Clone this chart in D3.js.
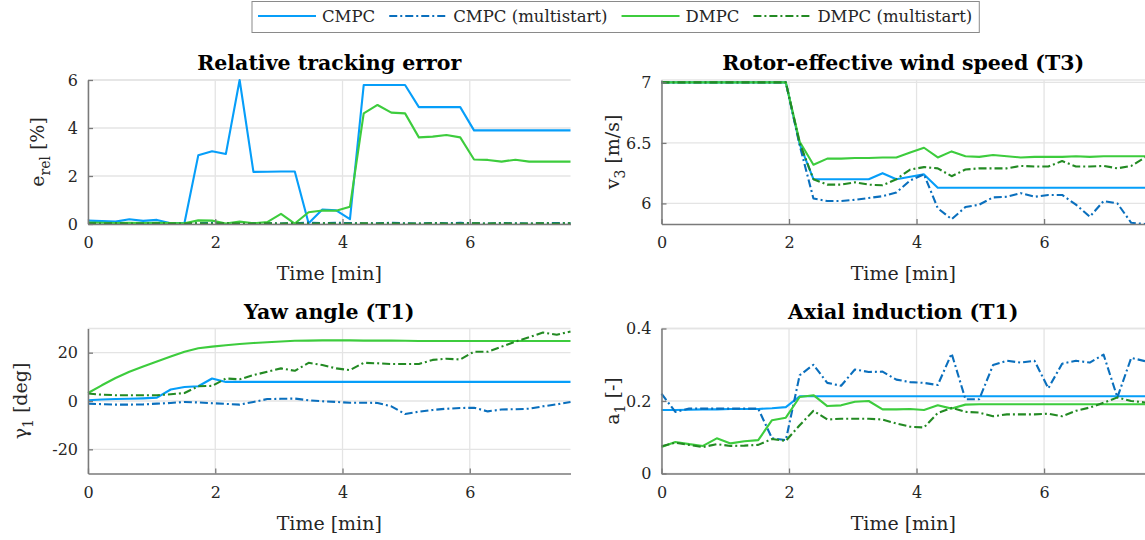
<!DOCTYPE html>
<html>
<head>
<meta charset="utf-8">
<script src="https://cdn.jsdelivr.net/npm/d3@7"></script>
<style>
    body { margin: 0; background: #fff; }
    svg { display: block; font-family: "DejaVu Serif", serif; }
</style>
</head>
<body>
<div id="chart"></div>
<script>
/*global d3: false */
(function(){
    "use strict";
    //====================================
    // data (time in minutes, one sample every 13 s)
    var times = [0, 0.217, 0.433, 0.65, 0.867, 1.083, 1.3, 1.517, 1.733, 1.95, 2.167, 2.383,
        2.6, 2.817, 3.033, 3.25, 3.467, 3.683, 3.9, 4.117, 4.333, 4.55, 4.767, 4.983,
        5.2, 5.417, 5.633, 5.85, 6.067, 6.283, 6.5, 6.717, 6.933, 7.15, 7.367, 7.583];

    var seriesNames = ["CMPC", "CMPC (multistart)", "DMPC", "DMPC (multistart)"];
    var xTicks = [0, 2, 4, 6];

    // relative tracking error [%]
    var errCMPC = [0.14, 0.12, 0.1, 0.2, 0.13, 0.17, 0.03, 0.05, 2.86, 3.03, 2.92, 6.0,
        2.17, 2.18, 2.19, 2.19, 0.03, 0.6, 0.57, 0.2, 5.79, 5.79, 5.79, 5.79,
        4.87, 4.87, 4.87, 4.87, 3.9, 3.9, 3.9, 3.9, 3.9, 3.9, 3.9, 3.9];
    var errCMPCms = [0.04, 0.03, 0.02, 0.03, 0.02, 0.02, 0.03, 0.02, 0.03, 0.05, 0.03, 0.02,
        0.04, 0.03, 0.02, 0.03, 0.06, 0.03, 0.05, 0.04, 0.02, 0.03, 0.05, 0.03,
        0.02, 0.04, 0.03, 0.05, 0.03, 0.02, 0.04, 0.03, 0.02, 0.03, 0.04, 0.03];
    var errDMPC = [0.06, 0.05, 0.04, 0.05, 0.04, 0.05, 0.04, 0.03, 0.15, 0.14, 0.02, 0.1,
        0.03, 0.08, 0.42, 0.02, 0.49, 0.56, 0.55, 0.72, 4.61, 4.96, 4.64, 4.61,
        3.61, 3.64, 3.71, 3.61, 2.69, 2.67, 2.6, 2.68, 2.6, 2.6, 2.6, 2.6];
    var errDMPCms = [0.03, 0.02, 0.03, 0.02, 0.02, 0.03, 0.02, 0.02, 0.03, 0.02, 0.03, 0.02,
        0.02, 0.03, 0.02, 0.03, 0.02, 0.03, 0.02, 0.02, 0.03, 0.02, 0.03, 0.02,
        0.02, 0.03, 0.02, 0.02, 0.03, 0.02, 0.03, 0.02, 0.02, 0.03, 0.02, 0.03];

    // rotor-effective wind speed T3 [m/s]
    var windCMPC = [7, 7, 7, 7, 7, 7, 7, 7, 7, 7, 6.49, 6.2,
        6.2, 6.2, 6.2, 6.2, 6.25, 6.2, 6.22, 6.24, 6.13, 6.13, 6.13, 6.13,
        6.13, 6.13, 6.13, 6.13, 6.13, 6.13, 6.13, 6.13, 6.13, 6.13, 6.13, 6.13];
    var windCMPCms = [7, 7, 7, 7, 7, 7, 7, 7, 7, 7, 6.48, 6.04,
        6.02, 6.02, 6.03, 6.045, 6.06, 6.09, 6.19, 6.24, 5.96, 5.87, 5.97, 5.99,
        6.05, 6.055, 6.085, 6.055, 6.07, 6.07, 5.99, 5.89, 6.02, 6.0, 5.84, 5.83];
    var windDMPC = [7, 7, 7, 7, 7, 7, 7, 7, 7, 7, 6.51, 6.32,
        6.37, 6.37, 6.375, 6.375, 6.38, 6.38, 6.42, 6.46, 6.38, 6.43, 6.39, 6.385,
        6.4, 6.39, 6.38, 6.385, 6.385, 6.385, 6.39, 6.385, 6.39, 6.39, 6.39, 6.39];
    var windDMPCms = [7, 7, 7, 7, 7, 7, 7, 7, 7, 7, 6.5, 6.2,
        6.155, 6.155, 6.175, 6.155, 6.15, 6.2, 6.28, 6.3, 6.29, 6.225, 6.28, 6.29,
        6.29, 6.29, 6.31, 6.305, 6.305, 6.35, 6.305, 6.305, 6.31, 6.29, 6.31, 6.38];

    // yaw angle T1 [deg]
    var yawCMPC = [0.3, 0.6, 0.8, 0.9, 1.1, 1.4, 4.75, 5.8, 6.1, 9.3, 7.9, 7.9,
        7.9, 7.9, 7.9, 7.9, 7.9, 7.9, 7.9, 7.9, 7.9, 7.9, 7.9, 7.9,
        7.9, 7.9, 7.9, 7.9, 7.9, 7.9, 7.9, 7.9, 7.9, 7.9, 7.9, 7.9];
    var yawCMPCms = [-1.1, -1.3, -1.5, -1.5, -1.4, -1.1, -0.8, -0.4, -0.6, -0.9, -1.2, -1.5,
        -0.4, 0.8, 0.9, 1.0, 0.3, -0.1, -0.4, -0.7, -0.7, -0.8, -2.2, -5.4,
        -4.4, -3.7, -3.2, -2.9, -2.8, -4.3, -3.5, -3.4, -3.2, -2.2, -1.4, -0.4];
    var yawDMPC = [3.3, 6.5, 9.5, 12.1, 14.3, 16.3, 18.4, 20.4, 21.8, 22.5, 23.1, 23.6,
        24.0, 24.3, 24.6, 24.9, 25.0, 25.1, 25.1, 25.1, 25.0, 25.0, 25.0, 24.9,
        24.8, 24.8, 24.8, 24.8, 24.8, 24.8, 24.8, 24.8, 24.8, 24.8, 24.8, 24.8];
    var yawDMPCms = [3.1, 2.6, 2.4, 2.4, 2.4, 2.4, 2.8, 3.3, 6.1, 6.25, 9.3, 9.0,
        10.7, 12.1, 13.5, 12.5, 15.8, 14.9, 13.5, 12.8, 15.8, 15.6, 15.3, 15.3,
        15.3, 17.0, 17.5, 17.2, 20.4, 20.4, 22.5, 24.6, 26.4, 28.3, 27.4, 28.75];

    // axial induction T1 [-]
    var indCMPC = [0.175, 0.175, 0.176, 0.177, 0.177, 0.178, 0.178, 0.178, 0.18, 0.183, 0.213, 0.213,
        0.213, 0.213, 0.213, 0.213, 0.213, 0.213, 0.213, 0.213, 0.213, 0.213, 0.213, 0.213,
        0.213, 0.213, 0.213, 0.213, 0.213, 0.213, 0.213, 0.213, 0.213, 0.213, 0.213, 0.213];
    var indCMPCms = [0.22, 0.17, 0.179, 0.179, 0.179, 0.179, 0.179, 0.179, 0.097, 0.092, 0.271, 0.3,
        0.25, 0.242, 0.287, 0.28, 0.281, 0.259, 0.252, 0.25, 0.244, 0.331, 0.205, 0.205,
        0.299, 0.311, 0.306, 0.311, 0.235, 0.303, 0.311, 0.306, 0.328, 0.21, 0.319, 0.31];
    var indDMPC = [0.073, 0.087, 0.081, 0.076, 0.097, 0.083, 0.089, 0.092, 0.147, 0.154, 0.211, 0.216,
        0.186, 0.188, 0.198, 0.2, 0.177, 0.177, 0.178, 0.175, 0.188, 0.179, 0.19, 0.191,
        0.191, 0.191, 0.191, 0.191, 0.191, 0.191, 0.191, 0.191, 0.191, 0.191, 0.191, 0.191];
    var indDMPCms = [0.075, 0.085, 0.079, 0.073, 0.081, 0.076, 0.077, 0.079, 0.095, 0.09, 0.133, 0.173,
        0.149, 0.151, 0.151, 0.151, 0.149, 0.138, 0.129, 0.127, 0.167, 0.181, 0.17, 0.168,
        0.158, 0.163, 0.163, 0.163, 0.165, 0.158, 0.173, 0.182, 0.195, 0.21, 0.2, 0.196];

    //====================================
    // styling
    var colors = ["#069ef9", "#0a6fbd", "#3dcc3d", "#238a23"];
    var dashes = [null, "8,3,2,3", null, "8,3,2,3"];
    var axisColor = "#7a7a7a";
    var gridColor = "#e4e4e4";
    var textColor = "#262626";

    var width = 1145, height = 540;
    var svg = d3.select("#chart").append("svg")
        .attr("width", width)
        .attr("height", height);

    //panel definitions
    var panels = [
        {title: "Relative tracking error", ylab: ["e", "rel", " [%]"], ylabX: 44,
            left: 88, right: 570.5, top: 80, bottom: 224,
            yDomain: [0, 6], yTicks: [0, 2, 4, 6],
            series: [errCMPC, errCMPCms, errDMPC, errDMPCms]},
        {title: "Rotor-effective wind speed (T3)", ylab: ["v", "3", " [m/s]"], ylabX: 619,
            left: 661.5, right: 1145, top: 80, bottom: 224,
            yDomain: [5.83, 7.02], yTicks: [6, 6.5, 7],
            series: [windCMPC, windCMPCms, windDMPC, windDMPCms]},
        {title: "Yaw angle (T1)", ylab: ["\u03b3", "1", " [deg]"], ylabX: 27,
            left: 88, right: 570.5, top: 328.5, bottom: 473.5,
            yDomain: [-30, 30], yTicks: [-20, 0, 20],
            series: [yawCMPC, yawCMPCms, yawDMPC, yawDMPCms]},
        {title: "Axial induction (T1)", ylab: ["a", "1", " [-]"], ylabX: 619,
            left: 661.5, right: 1145, top: 328.5, bottom: 473.5,
            yDomain: [0, 0.4], yTicks: [0, 0.2, 0.4],
            series: [indCMPC, indCMPCms, indDMPC, indDMPCms]}
    ];

    //draw one panel
    function drawPanel(p){
        var x = d3.scaleLinear().domain([0, times[times.length - 1]]).range([p.left, p.right]);
        var y = d3.scaleLinear().domain(p.yDomain).range([p.bottom, p.top]);
        var g = svg.append("g");

        //grid
        g.append("g").selectAll("line").data(xTicks).enter().append("line")
            .attr("x1", function(d){return x(d);})
            .attr("x2", function(d){return x(d);})
            .attr("y1", p.top).attr("y2", p.bottom)
            .attr("stroke", gridColor).attr("stroke-width", 1.3);
        g.append("g").selectAll("line").data(p.yTicks).enter().append("line")
            .attr("x1", p.left).attr("x2", p.right)
            .attr("y1", function(d){return y(d);})
            .attr("y2", function(d){return y(d);})
            .attr("stroke", gridColor).attr("stroke-width", 1.3);
        g.append("line")
            .attr("x1", p.left).attr("x2", p.right)
            .attr("y1", p.top).attr("y2", p.top)
            .attr("stroke", gridColor).attr("stroke-width", 1.3);

        //curves
        var line = d3.line()
            .x(function(d, i){return x(times[i]);})
            .y(function(d){return y(d);});
        p.series.forEach(function(s, i){
            g.append("path")
                .datum(s)
                .attr("d", line)
                .attr("fill", "none")
                .attr("stroke", colors[i])
                .attr("stroke-width", 2.1)
                .attr("stroke-linejoin", "round")
                .attr("stroke-dasharray", dashes[i]);
        });

        //axes
        var xAxis = g.append("g")
            .attr("transform", "translate(0," + p.bottom + ")")
            .call(d3.axisBottom(x).tickValues(xTicks).tickSizeInner(-5).tickSizeOuter(0)
                .tickPadding(13).tickFormat(function(d){return String(d);}));
        var yAxis = g.append("g")
            .attr("transform", "translate(" + p.left + ",0)")
            .call(d3.axisLeft(y).tickValues(p.yTicks).tickSizeInner(-5).tickSizeOuter(0)
                .tickPadding(10).tickFormat(function(d){return String(d);}));
        [xAxis, yAxis].forEach(function(a){
            a.select(".domain").attr("stroke", axisColor).attr("stroke-width", 1.5);
            a.selectAll(".tick line").attr("stroke", axisColor).attr("stroke-width", 1.3);
            a.selectAll(".tick text")
                .attr("fill", textColor)
                .style("font-family", "DejaVu Serif")
                .style("font-size", "16px");
        });

        //labels
        g.append("text")
            .attr("x", (p.left + p.right) / 2)
            .attr("y", p.top - 10)
            .attr("text-anchor", "middle")
            .attr("fill", "#000")
            .style("font-weight", "bold")
            .style("font-size", "20.5px")
            .text(p.title);
        g.append("text")
            .attr("x", (p.left + p.right) / 2)
            .attr("y", p.bottom + 56)
            .attr("text-anchor", "middle")
            .attr("fill", textColor)
            .style("font-size", "19px")
            .text("Time [min]");
        var yl = g.append("text")
            .attr("transform", "translate(" + p.ylabX + "," + ((p.top + p.bottom) / 2) + ") rotate(-90)")
            .attr("text-anchor", "middle")
            .attr("fill", textColor)
            .style("font-size", "19px");
        yl.append("tspan").text(p.ylab[0]);
        yl.append("tspan").attr("dy", 6).style("font-size", "14px").text(p.ylab[1]);
        yl.append("tspan").attr("dy", -6).text(p.ylab[2]);
    }

    panels.forEach(drawPanel);

    //====================================
    //legend
    var legend = svg.append("g");
    var box = legend.append("rect")
        .attr("y", 1.5).attr("height", 31)
        .attr("fill", "#fff")
        .attr("stroke", "#8a8a8a")
        .attr("stroke-width", 1);
    var lx = 258;
    seriesNames.forEach(function(name, i){
        legend.append("line")
            .attr("x1", lx).attr("x2", lx + 58)
            .attr("y1", 16).attr("y2", 16)
            .attr("stroke", colors[i])
            .attr("stroke-width", 2.1)
            .attr("stroke-dasharray", dashes[i]);
        var t = legend.append("text")
            .attr("x", lx + 64)
            .attr("y", 22)
            .attr("fill", textColor)
            .style("font-size", "16.5px")
            .text(name);
        lx = lx + 64 + t.node().getComputedTextLength() + 14;
    });
    box.attr("x", 252).attr("width", lx - 14 + 7 - 252);
})();
</script>
</body>
</html>
